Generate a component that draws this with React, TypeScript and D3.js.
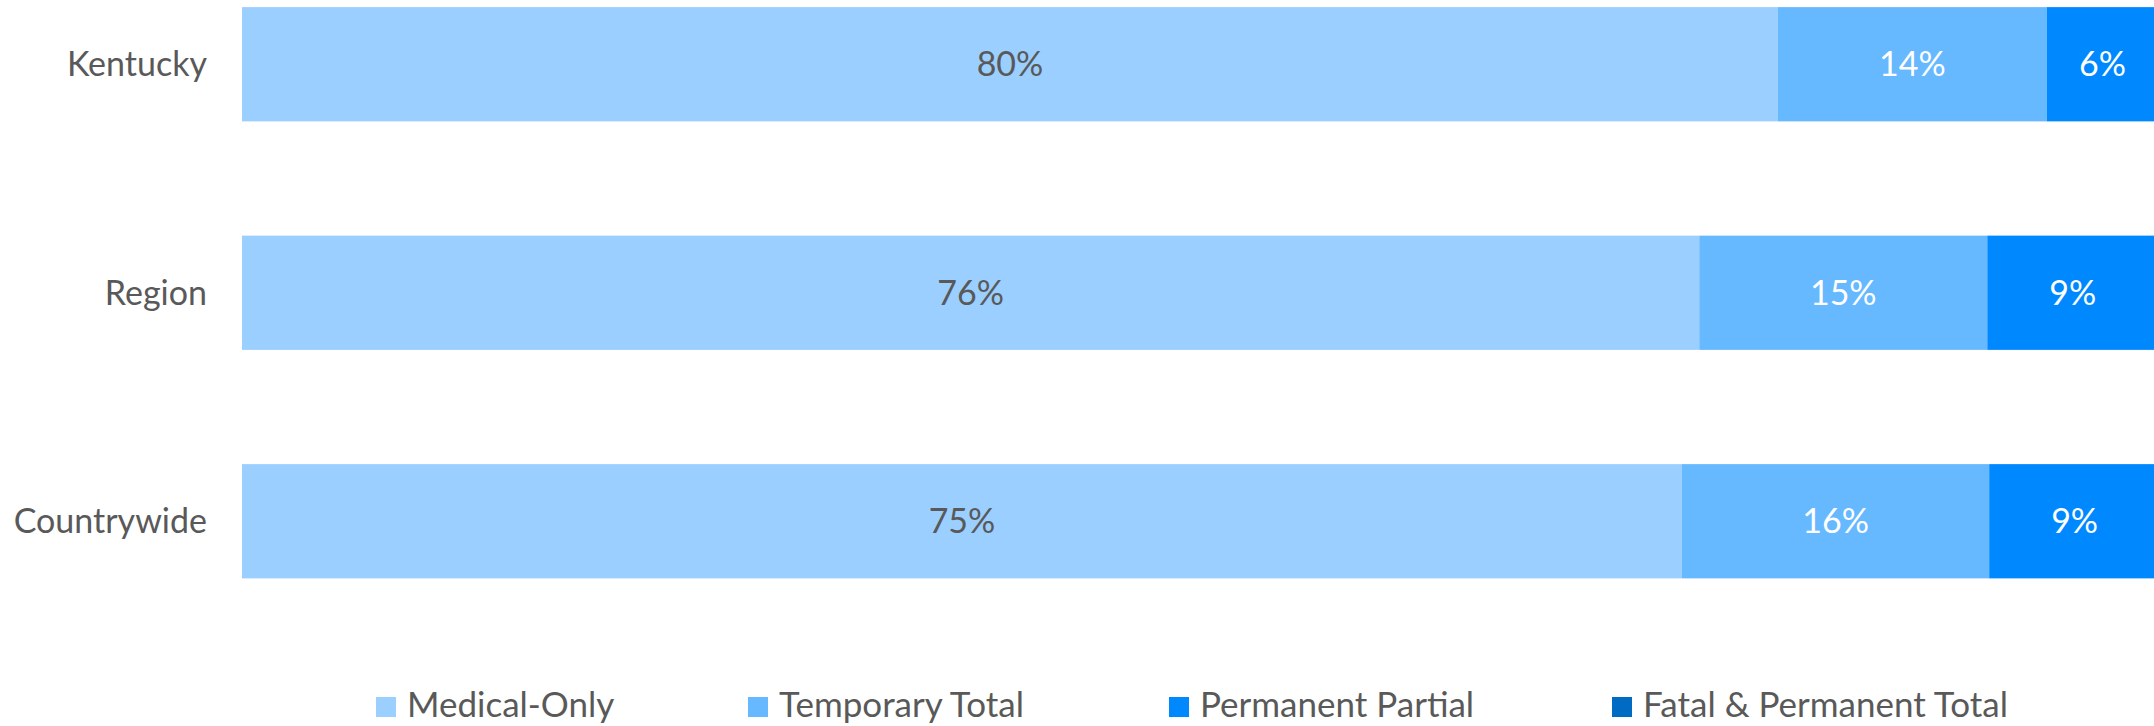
import React from "react";
import * as d3 from "d3";

// ---- data ----
const categories = ["Kentucky", "Region", "Countrywide"];
const seriesNames = ["Medical-Only", "Temporary Total", "Permanent Partial", "Fatal & Permanent Total"];
const medicalOnly = [0.800, 0.759, 0.750];
const temporaryTotal = [0.140, 0.150, 0.160];
const permanentPartial = [0.058, 0.089, 0.089];
const fatalPermanentTotal = [0.002, 0.002, 0.001];

// ---- styles / layout ----
const W = 2154;
const H = 726;
const colors = ["#9BCFFF", "#66B8FF", "#0088FF", "#006BC2"];
const labelColors = ["#595959", "#FFFFFF", "#FFFFFF", "#FFFFFF"];
const textColor = "#595959";
const FONT = "Lato, 'Open Sans', sans-serif";
const plotLeft = 242;
const plotRight = 2162;
const legendX = [376, 748, 1169, 1612];
const legendY = 697;

export default function App() {
  const seriesValues = [medicalOnly, temporaryTotal, permanentPartial, fatalPermanentTotal];
  const rows = categories.map((c, i) => {
    const r: any = { category: c };
    seriesNames.forEach((s, k) => (r[s] = seriesValues[k][i]));
    return r;
  });
  const stack = d3.stack<any>().keys(seriesNames)(rows);

  const x = d3.scaleLinear().domain([0, 1]).range([plotLeft, plotRight]);
  const y = d3
    .scaleBand<string>()
    .domain(categories)
    .range([-50, 635.5])
    .paddingInner(0.5)
    .paddingOuter(0.25);
  const fmt = d3.format(".0%");

  return (
    <svg
      width={W}
      height={H}
      style={{ position: "absolute", left: 0, top: 0, display: "block", background: "#fff" }}
      fontFamily={FONT}
    >
      {stack.map((layer, k) => (
        <g key={seriesNames[k]}>
          {layer.map((d, i) => {
            const x0 = x(d[0]);
            const x1 = x(d[1]);
            const yy = y(categories[i])!;
            return (
              <g key={categories[i]}>
                <rect x={x0} y={yy} width={Math.max(0, x1 - x0)} height={y.bandwidth()} fill={colors[k]} />
                {d[1] - d[0] >= 0.01 && (
                  <text
                    x={(x0 + x1) / 2}
                    y={yy + y.bandwidth() / 2}
                    dy="0.35em"
                    textAnchor="middle"
                    fontSize={34}
                    fill={labelColors[k]}
                  >
                    {fmt(d[1] - d[0])}
                  </text>
                )}
              </g>
            );
          })}
        </g>
      ))}
      {categories.map((c) => (
        <text
          key={c}
          x={207}
          y={y(c)! + y.bandwidth() / 2}
          dy="0.35em"
          textAnchor="end"
          fontSize={34}
          fill={textColor}
        >
          {c}
        </text>
      ))}
      {seriesNames.map((s, k) => (
        <g key={s} transform={`translate(${legendX[k]},${legendY})`}>
          <rect x={0} y={0} width={20} height={20} fill={colors[k]} />
          <text x={31} y={20} fontSize={35} fill={textColor}>
            {s}
          </text>
        </g>
      ))}
    </svg>
  );
}
